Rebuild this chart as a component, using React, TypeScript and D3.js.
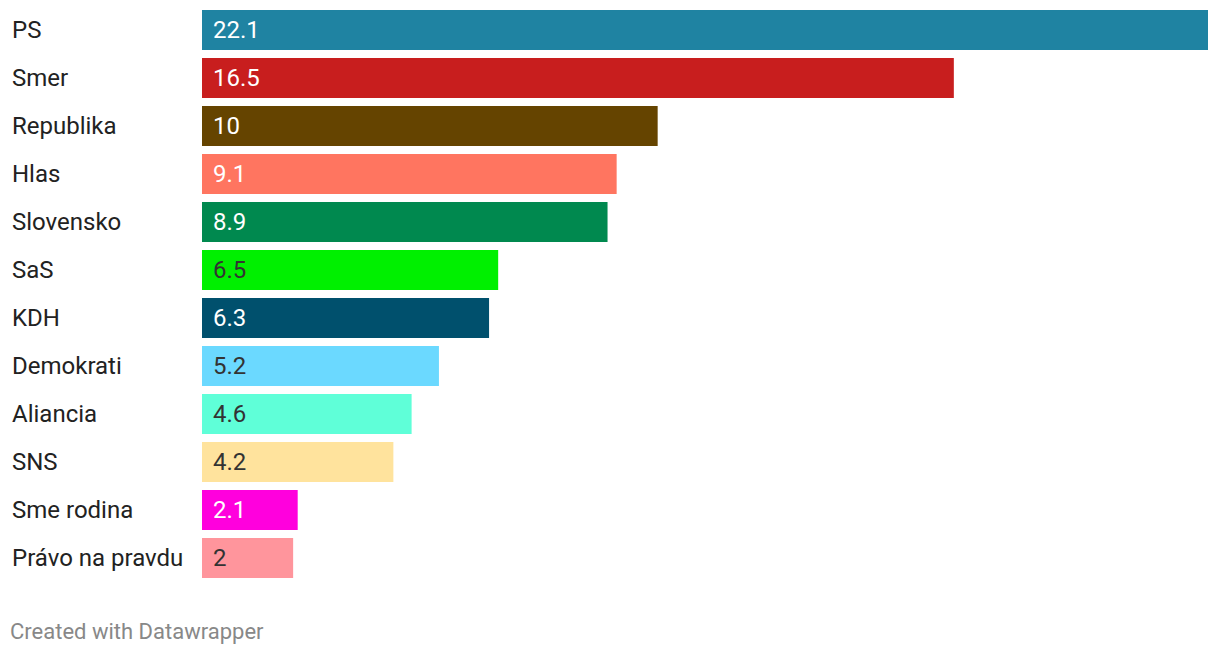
import React from "react";
import * as d3 from "d3";

const parties = ["PS", "Smer", "Republika", "Hlas", "Slovensko", "SaS", "KDH", "Demokrati", "Aliancia", "SNS", "Sme rodina", "Právo na pravdu"];
const values = [22.1, 16.5, 10, 9.1, 8.9, 6.5, 6.3, 5.2, 4.6, 4.2, 2.1, 2];
const colors = ["#1f83a2", "#c81e1e", "#654400", "#ff7560", "#00894f", "#00f000", "#00506d", "#6bd9ff", "#5fffd8", "#ffe39d", "#ff00dd", "#ff959c"];
const labelColors = ["#fff", "#fff", "#fff", "#fff", "#fff", "#333", "#fff", "#333", "#333", "#333", "#fff", "#333"];
const valueLabels = ["22.1", "16.5", "10", "9.1", "8.9", "6.5", "6.3", "5.2", "4.6", "4.2", "2.1", "2"];

export default function App() {
  const W = 1220, H = 654;
  const x = d3.scaleLinear().domain([0, 22.1]).range([202, 1209]);
  const y = d3.scaleBand().domain(parties).range([10, 10 + 48 * parties.length - 8]).paddingInner(8 / 48).paddingOuter(0);
  const font = "Roboto, 'Noto Sans', sans-serif";
  return (
    <svg width={W} height={H} style={{ position: "absolute", left: 0, top: 0, background: "#fff" }} fontFamily={font}>
      {parties.map((p, i) => {
        const y0 = y(p)!;
        const bh = y.bandwidth();
        return (
          <g key={p}>
            <text x={12} y={y0 + bh / 2} dy="0.35em" fontSize={24} fill="#222">{p}</text>
            <rect x={x(0)} y={y0} width={Math.min(x(values[i]), 1208) - x(0)} height={bh} fill={colors[i]} />
            <text x={x(0) + 11} y={y0 + bh / 2} dy="0.35em" fontSize={24} fill={labelColors[i]}>{valueLabels[i]}</text>
          </g>
        );
      })}
      <text x={10} y={631} dy="0.35em" fontSize={22} fill="#888">Created with Datawrapper</text>
    </svg>
  );
}
